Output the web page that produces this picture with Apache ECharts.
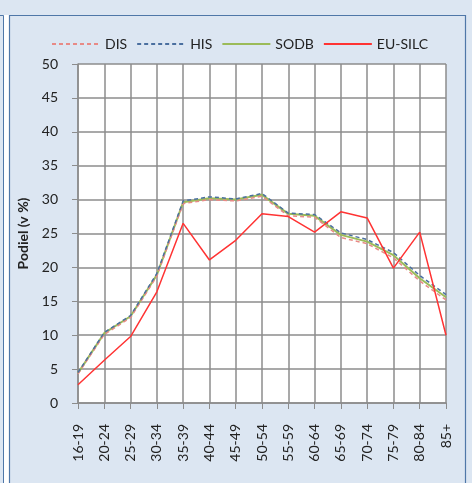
<!DOCTYPE html>
<html>
<head>
<meta charset="utf-8">
<script src="https://cdn.jsdelivr.net/npm/echarts@6/dist/echarts.min.js"></script>
<style>
  html, body { margin: 0; padding: 0; background: #dce6f2; }
  #chart { width: 472px; height: 483px; }
</style>
</head>
<body>
<div id="chart"></div>
<script>
// vekove skupiny a podiely v %
const categories = ['16-19', '20-24', '25-29', '30-34', '35-39', '40-44', '45-49', '50-54',
    '55-59', '60-64', '65-69', '70-74', '75-79', '80-84', '85+'];
const disValues = [4.3, 10.1, 12.6, 18.7, 29.4, 30.0, 29.8, 30.5, 27.6, 27.4, 24.4, 23.5, 21.4, 18.0, 15.2];
const hisValues = [4.5, 10.4, 12.9, 19.1, 29.8, 30.4, 30.1, 30.9, 28.0, 27.8, 25.1, 24.1, 22.2, 18.8, 16.0];
const sodbValues = [4.4, 10.3, 12.8, 18.9, 29.6, 30.2, 30.0, 30.7, 27.9, 27.6, 24.8, 23.8, 21.8, 18.4, 15.6];
const euSilcValues = [2.7, 6.3, 9.8, 16.4, 26.5, 21.1, 24.0, 27.9, 27.5, 25.2, 28.2, 27.3, 19.9, 25.2, 10.0];
const yTicks = { min: 0, max: 50, interval: 5 };

(function () {
    let myChart = echarts.init(document.getElementById('chart'));
    const font = 'Lato, "Open Sans", sans-serif';
    const frameColor = '#4f77a8';
    let option = {
        backgroundColor: '#dce6f2',
        animation: false,
        textStyle: { fontFamily: font },
        graphic: [
            // bocny pruh susedneho grafu
            { type: 'rect', shape: { x: 4, y: 15, width: 5, height: 480 }, style: { fill: '#ffffff' }, silent: true },
            { type: 'polyline', shape: { points: [[0, 15.5], [3.5, 15.5], [3.5, 483]] }, style: { stroke: frameColor, lineWidth: 1, fill: null }, silent: true },
            // ramik grafu
            { type: 'polyline', shape: { points: [[9.5, 483], [9.5, 15.5], [465.5, 15.5], [465.5, 483]] }, style: { stroke: frameColor, lineWidth: 1.2, fill: null }, silent: true }
        ],
        legend: {
            top: 32,
            left: 46,
            itemWidth: 48,
            itemHeight: 12,
            itemGap: 9,
            itemStyle: { opacity: 0 },
            textStyle: { color: '#222', fontSize: 14, fontFamily: font },
            data: ['DIS', 'HIS', 'SODB', 'EU-SILC']
        },
        grid: {
            left: 78,
            right: 26,
            top: 64,
            bottom: 80,
            containLabel: false,
            show: true,
            backgroundColor: '#ffffff',
            borderWidth: 0
        },
        xAxis: {
            type: 'category',
            boundaryGap: false,
            data: categories,
            axisLine: { lineStyle: { color: '#8c8c8c', width: 1.5 } },
            axisTick: { show: true, length: 6, lineStyle: { color: '#8c8c8c' } },
            axisLabel: { rotate: 90, interval: 0, margin: 21, color: '#222', fontSize: 14, fontFamily: font },
            splitLine: { show: true, lineStyle: { color: '#8c8c8c', width: 1.5 } }
        },
        yAxis: {
            type: 'value',
            min: yTicks.min,
            max: yTicks.max,
            interval: yTicks.interval,
            name: 'Podiel (v %)',
            nameLocation: 'middle',
            nameGap: 46,
            nameTextStyle: { color: '#222', fontSize: 14, fontWeight: 'bold', fontFamily: font },
            axisLine: { show: true, lineStyle: { color: '#8c8c8c', width: 1.5 } },
            axisTick: { show: true, length: 6, lineStyle: { color: '#8c8c8c' } },
            axisLabel: { color: '#222', fontSize: 14, margin: 20, fontFamily: font },
            splitLine: { lineStyle: { color: '#8c8c8c', width: 1.5 } }
        },
        series: [
            {
                name: 'SODB', type: 'line', data: sodbValues, symbol: 'none', z: 2,
                itemStyle: { color: '#9bbb59' },
                lineStyle: { color: '#9bbb59', width: 2 }
            },
            {
                name: 'DIS', type: 'line', data: disValues, symbol: 'none', z: 3,
                itemStyle: { color: '#e88a86' },
                lineStyle: { color: '#e88a86', width: 1.5, type: [4, 3] }
            },
            {
                name: 'HIS', type: 'line', data: hisValues, symbol: 'none', z: 4,
                itemStyle: { color: '#4a6f9f' },
                lineStyle: { color: '#4a6f9f', width: 1.5, type: [4, 3] }
            },
            {
                name: 'EU-SILC', type: 'line', data: euSilcValues, symbol: 'none', z: 5,
                itemStyle: { color: '#ff3333' },
                lineStyle: { color: '#ff3333', width: 1.5 }
            }
        ]
    };
    myChart.setOption(option);
    window.addEventListener('resize', function () {
        myChart.resize();
    });
})();
</script>
</body>
</html>
